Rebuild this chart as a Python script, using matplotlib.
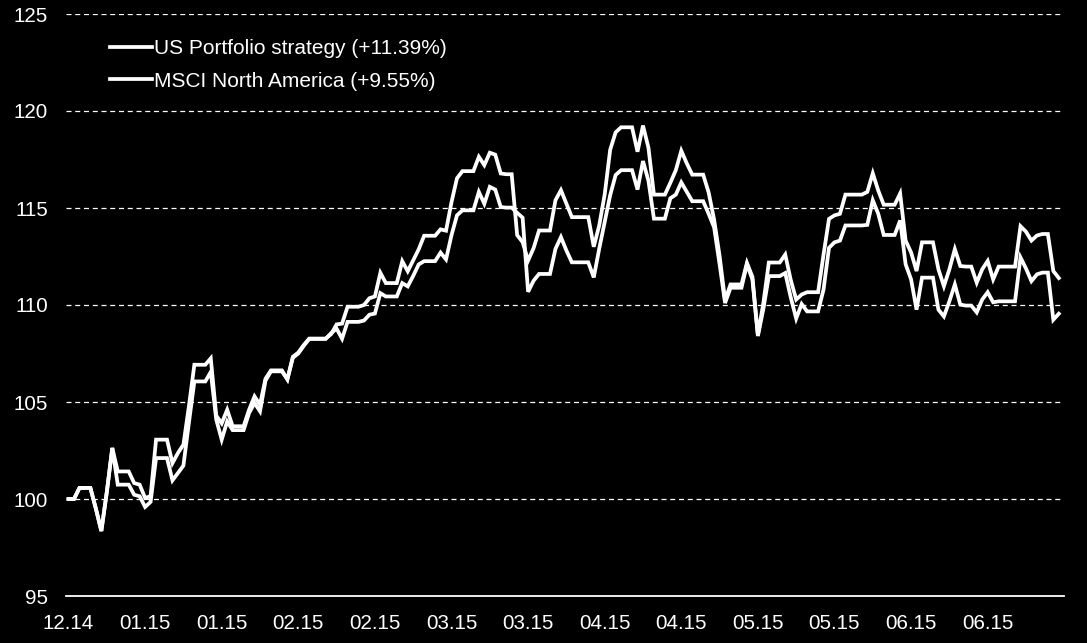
import matplotlib
matplotlib.use("Agg")
import matplotlib.pyplot as plt
import pandas as pd

start_date = "2014-12-31"
n_days = 182

portfolio = [
    100.0, 100.0, 100.57, 100.57, 100.57, 99.5, 98.35, 100.36, 102.63, 101.42,
    101.42, 101.42, 100.82, 100.74, 100.05, 100.15, 103.06, 103.06, 103.06, 101.85,
    102.37, 102.8, 104.77, 106.92, 106.92, 106.92, 107.25, 104.3, 103.9, 104.6,
    103.75, 103.75, 103.75, 104.6, 105.29, 104.86, 106.2, 106.63, 106.63, 106.63,
    106.17, 107.33, 107.55, 107.94, 108.27, 108.27, 108.27, 108.27, 108.5, 109.0,
    109.04, 109.91, 109.91, 109.91, 110.0, 110.35, 110.44, 111.66, 111.13, 111.13,
    111.13, 112.26, 111.74, 112.3, 112.87, 113.57, 113.57, 113.57, 113.9, 113.83,
    115.3, 116.53, 116.9, 116.9, 116.9, 117.64, 117.21, 117.85, 117.75, 116.78,
    116.74, 116.74, 113.6, 113.24, 112.29, 112.93, 113.84, 113.84, 113.84, 115.4,
    115.92, 115.22, 114.53, 114.53, 114.53, 114.53, 113.0, 114.1, 115.7, 118.0,
    118.9, 119.16, 119.16, 119.16, 117.9, 119.25, 118.1, 115.69, 115.69, 115.69,
    116.3, 116.95, 117.95, 117.3, 116.72, 116.72, 116.72, 115.8, 114.4, 112.53,
    110.25, 111.06, 111.06, 111.06, 112.17, 111.45, 108.45, 110.1, 112.19, 112.19,
    112.19, 112.6, 111.3, 110.28, 110.54, 110.66, 110.66, 110.66, 112.6, 114.44,
    114.62, 114.7, 115.69, 115.69, 115.69, 115.69, 115.83, 116.79, 115.9, 115.17,
    115.17, 115.17, 115.75, 113.32, 112.71, 111.75, 113.23, 113.23, 113.23, 111.84,
    110.97, 111.84, 112.88, 112.01, 111.98, 111.98, 111.15, 111.84, 112.27, 111.32,
    111.98, 111.98, 111.98, 111.98, 114.06, 113.78, 113.32, 113.58, 113.66, 113.66,
    111.75, 111.39,
]

msci = [
    100.0, 100.0, 100.57, 100.57, 100.57, 99.5, 98.35, 100.36, 102.63, 100.74,
    100.74, 100.74, 100.22, 100.14, 99.59, 99.85, 102.11, 102.11, 102.11, 100.96,
    101.34, 101.72, 103.92, 106.06, 106.06, 106.06, 106.55, 104.1, 103.06, 104.0,
    103.55, 103.55, 103.55, 104.43, 104.95, 104.52, 106.1, 106.58, 106.58, 106.58,
    106.17, 107.28, 107.5, 107.9, 108.25, 108.25, 108.25, 108.25, 108.55, 108.78,
    108.26, 109.13, 109.13, 109.13, 109.2, 109.5, 109.56, 110.61, 110.44, 110.44,
    110.44, 111.13, 110.96, 111.5, 112.09, 112.26, 112.26, 112.26, 112.7, 112.35,
    113.6, 114.62, 114.88, 114.88, 114.88, 115.83, 115.22, 116.09, 115.95, 115.05,
    115.02, 115.02, 114.75, 114.5, 110.68, 111.25, 111.6, 111.6, 111.6, 112.89,
    113.5, 112.81, 112.2, 112.2, 112.2, 112.2, 111.42, 112.9, 114.27, 115.66,
    116.7, 116.95, 116.95, 116.95, 115.95, 117.42, 116.4, 114.45, 114.45, 114.45,
    115.5, 115.69, 116.32, 115.83, 115.35, 115.35, 115.35, 114.7, 114.0, 112.1,
    110.1, 110.89, 110.89, 110.89, 112.1, 111.32, 108.4, 109.8, 111.49, 111.49,
    111.49, 111.65, 110.4, 109.3, 110.05, 109.67, 109.67, 109.67, 110.8, 112.95,
    113.23, 113.32, 114.1, 114.1, 114.1, 114.1, 114.13, 115.4, 114.7, 113.61,
    113.61, 113.61, 114.36, 112.1, 111.32, 109.76, 111.41, 111.41, 111.41, 109.76,
    109.41, 110.19, 111.06, 110.02, 109.97, 109.97, 109.62, 110.28, 110.66, 110.14,
    110.19, 110.19, 110.19, 110.19, 112.45, 111.88, 111.23, 111.58, 111.67, 111.67,
    109.24, 109.55,
]

series_names = ["US Portfolio strategy (+11.39%)", "MSCI North America (+9.55%)"]
y_ticks = [95, 100, 105, 110, 115, 120, 125]
label_every = 14

dates = pd.date_range(start_date, periods=n_days, freq="D")
x = list(range(n_days))
tick_pos = list(range(0, n_days, label_every))
tick_labels = [dates[i].strftime("%m.%y") for i in tick_pos]

font = "Liberation Sans"
plt.rcParams["font.family"] = [font, "DejaVu Sans"]

fig = plt.figure(figsize=(10.87, 6.43), dpi=100, facecolor="black")
ax = fig.add_axes([66 / 1087, 1 - 596 / 643, (1064 - 66) / 1087, (596 - 14) / 643])
ax.set_facecolor("black")

ax.plot(x, portfolio, color="white", lw=2.7, solid_joinstyle="miter", label=series_names[0], zorder=3)
ax.plot(x, msci, color="white", lw=2.7, solid_joinstyle="miter", label=series_names[1], zorder=3)

ax.set_ylim(95, 125)
ax.set_xlim(-0.46, 181.95)
ax.set_yticks(y_ticks)
ax.set_yticklabels([str(v) for v in y_ticks])
ax.set_xticks(tick_pos)
ax.set_xticklabels(tick_labels)

for v in y_ticks[1:]:
    ax.axhline(v, color="white", lw=0.9, ls=(0, (4, 3)), zorder=1)

for s in ["top", "right", "left"]:
    ax.spines[s].set_visible(False)
ax.spines["bottom"].set_color("white")
ax.spines["bottom"].set_linewidth(1.3)

ax.tick_params(axis="both", length=0, colors="white", labelsize=14.8)
ax.tick_params(axis="y", pad=13)
ax.tick_params(axis="x", pad=13)

leg = ax.legend(loc="upper left", bbox_to_anchor=(0.044, 0.957), frameon=False,
                fontsize=15, handlelength=2.0, handletextpad=0.12,
                labelspacing=0.66, borderpad=0, borderaxespad=0)
for t in leg.get_texts():
    t.set_color("white")

fig.savefig("out.png", dpi=100, facecolor="black")
